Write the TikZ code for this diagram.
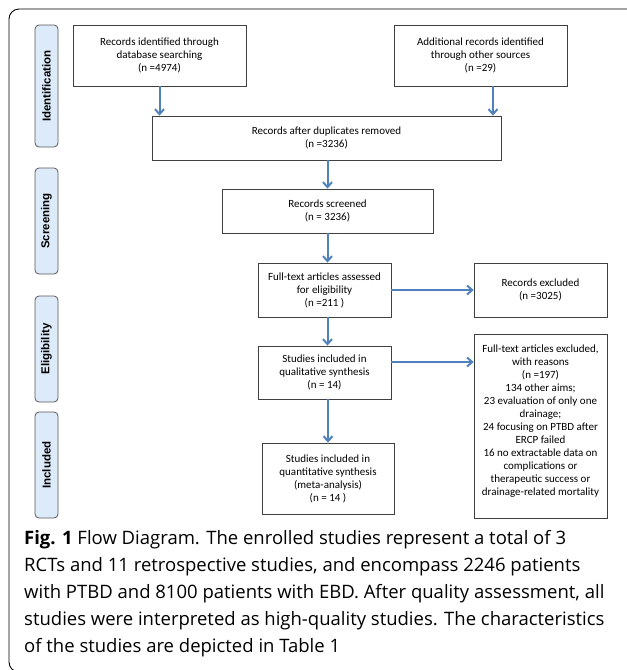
\documentclass[tikz,border=0pt]{standalone}
\usepackage{fontspec}
\setmainfont{Carlito}
\newfontfamily\phasefont{Liberation Sans}
\newfontfamily\capfont{Open Sans}
\usepackage{tikz}
\usetikzlibrary{calc,positioning,arrows.meta}
\definecolor{flowblue}{RGB}{79,129,189}
\definecolor{phasefill}{RGB}{220,234,250}
\definecolor{boxline}{RGB}{64,64,64}

\begin{document}
\begin{tikzpicture}[x=1pt, y=-1pt, > = {Straight Barb[length=5pt, width=9pt]},
    box/.style={draw=boxline, line width=0.8pt, rectangle, align=center, inner sep=2pt,
        font=\fontsize{11}{13}\selectfont},
    phase/.style={draw=black!65, line width=0.8pt, fill=phasefill, rounded corners=4pt,
        rotate=90, minimum height=23pt, inner sep=0pt, font=\phasefont\bfseries\fontsize{11.5}{13}\selectfont},
    flow/.style={->, draw=flowblue, line width=2pt}]
    \useasboundingbox (0,0) rectangle (627,670);
    \draw[line width=0.9pt, rounded corners=10pt] (629,9) -- (9,9) -- (9,672) -- (629,672);

    \node[phase, minimum width=122pt] (pIdent) at (46.5,86) {Identification};
    \node[phase, minimum width=106pt] (pScreen) at (46.5,221) {Screening};
    \node[phase, minimum width=106pt] (pElig) at (46.5,349) {Eligibility};
    \node[phase, minimum width=106pt] (pIncl) at (46.5,465) {Included};

    \node[box, minimum width=173pt, minimum height=61pt] (ident) at (159.5,55.5)
        {Records identified through\\database searching\\(n =4974)};
    \node[box, minimum width=173pt, minimum height=61pt] (other) at (480.5,55.5)
        {Additional records identified\\through other sources\\(n =29)};
    \node[box, minimum width=349pt, minimum height=44pt] (dup) at (326.5,138)
        {Records after duplicates removed\\(n =3236)};
    \node[box, minimum width=211pt, minimum height=44pt] (screened) at (327.5,211)
        {Records screened\\(n = 3236)};
    \node[box, minimum width=133pt, minimum height=54pt] (fulltext) at (324.5,290)
        {Full-text articles assessed\\for eligibility\\(n =211 )};
    \node[box, minimum width=133pt, minimum height=54pt] (excluded) at (540.5,290)
        {Records excluded\\(n =3025)};
    \node[box, minimum width=133pt, minimum height=53pt] (qual) at (324.5,372.5)
        {Studies included in\\qualitative synthesis\\(n = 14)};
    \node[box, minimum width=133pt, minimum height=184pt] (reasons) at (540.5,426)
        {Full-text articles excluded,\\with reasons\\(n =197)\\134 other aims;\\23 evaluation of only one\\drainage;\\24 focusing on PTBD after\\ERCP failed\\16 no extractable data on\\complications or\\therapeutic success or\\drainage-related mortality\\[-2pt]};
    \node[box, minimum width=132pt, minimum height=71pt] (quant) at (328,478.5)
        {Studies included in\\quantitative synthesis\\(meta-analysis)\\(n = 14 )};

    \draw[flow] (ident.south) -- (ident.south |- dup.north);
    \draw[flow] ([xshift=12.5pt]other.south) -- ([xshift=12.5pt]other.south |- dup.north);
    \draw[flow] (screened.north |- dup.south) -- (screened.north);
    \draw[flow] (screened.south) -- (screened.south |- fulltext.north);
    \draw[flow] (screened.south |- fulltext.south) -- (screened.south |- qual.north);
    \draw[flow] (fulltext.east) -- (excluded.west);
    \draw[flow] ([yshift=10.5pt]qual.east) -- ([yshift=10.5pt]qual.east -| reasons.west);
    \draw[flow] (quant.north |- qual.south) -- (quant.north);

    \node[anchor=north west, align=left, inner sep=0pt,
        font=\capfont\fontsize{18.5}{27}\selectfont] (caption) at (24,530)
        {\textbf{Fig. 1} Flow Diagram. The enrolled studies represent a total of 3\\
        RCTs and 11 retrospective studies, and encompass 2246 patients\\
        with PTBD and 8100 patients with EBD. After quality assessment, all\\
        studies were interpreted as high-quality studies. The characteristics\\
        of the studies are depicted in Table 1};
\end{tikzpicture}
\end{document}
